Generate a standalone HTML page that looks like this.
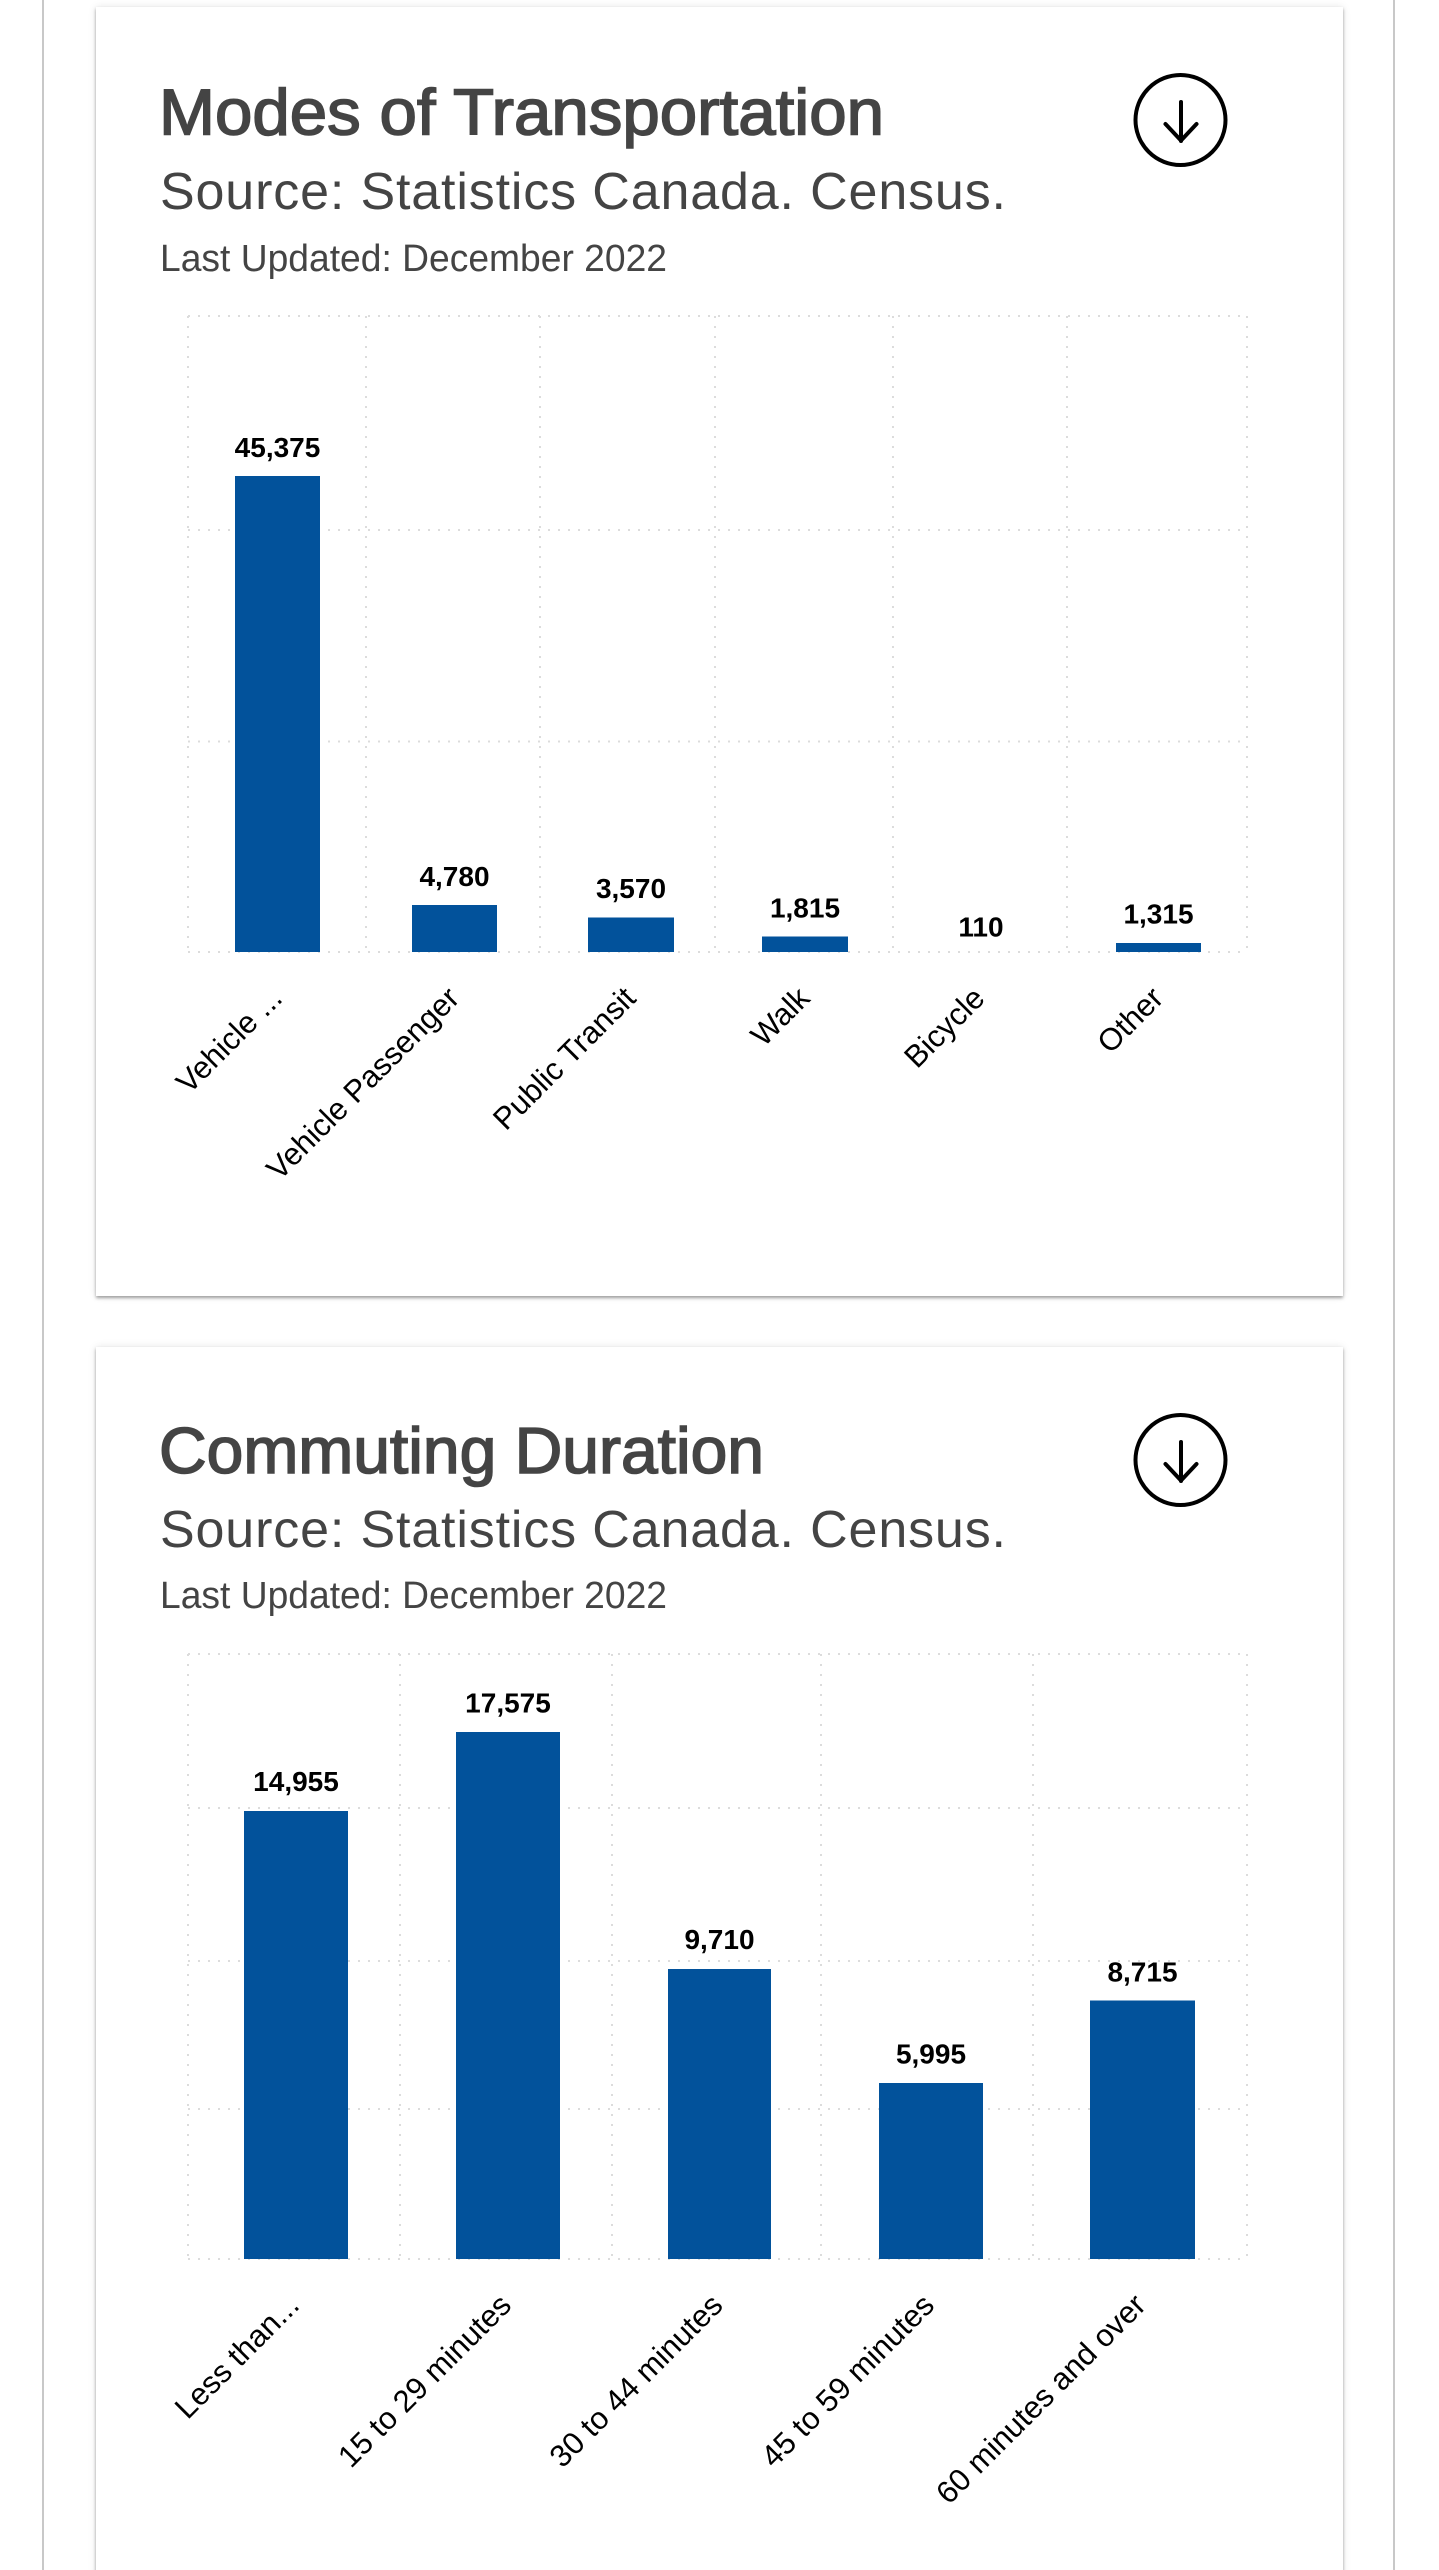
<!DOCTYPE html>
<html>
<head>
<meta charset="utf-8">
<style>
  html, body { margin:0; padding:0; width:1439px; height:2570px; overflow:hidden; background:#ffffff; }
  #wrap { position:relative; width:1439px; height:2570px; overflow:hidden; background:#ffffff; }
  .vline { position:absolute; top:0; width:2px; height:2570px; background:#c8c8c8; }
  .card { position:absolute; left:96px; width:1247px; background:#fff;
          box-shadow: 0 2px 3px rgba(0,0,0,0.35), 0 0 8px rgba(0,0,0,0.10); }
  svg.overlay { position:absolute; left:0; top:0; }
  .t { font-family:"Liberation Sans", Arial, sans-serif; }
</style>
</head>
<body>
<div id="wrap">
<div class="vline" style="left:42px"></div>
<div class="vline" style="left:1393px"></div>
<div class="card" style="top:7px;height:1289px"></div>
<div class="card" style="top:1347px;height:1260px"></div>

<svg class="overlay" width="1439" height="2570" viewBox="0 0 1439 2570" xmlns="http://www.w3.org/2000/svg">
  <!-- ================= CARD 1 header ================= -->
  <g class="t" fill="#444444">
    <text x="159" y="134.5" font-size="65" stroke="#444444" stroke-width="1.6" textLength="725" lengthAdjust="spacingAndGlyphs">Modes of Transportation</text>
    <text x="160" y="209" font-size="52" textLength="846" lengthAdjust="spacing">Source: Statistics Canada. Census.</text>
    <text x="160" y="271" font-size="38" textLength="507" lengthAdjust="spacingAndGlyphs">Last Updated: December 2022</text>
  </g>
  <g fill="none" stroke="#000" stroke-width="4" stroke-linecap="round" stroke-linejoin="round">
    <circle cx="1180.5" cy="120" r="45"/>
    <line x1="1181" y1="102" x2="1181" y2="141"/>
    <polyline points="1165.5,124 1181,140.5 1196.5,124"/>
  </g>

  <!-- ================= CHART 1 grid ================= -->
  <g stroke="#dcdcdc" stroke-width="2" stroke-dasharray="2,8" fill="none">
    <line x1="188" y1="316" x2="1247" y2="316"/>
    <line x1="188" y1="530" x2="1247" y2="530"/>
    <line x1="188" y1="741.5" x2="1247" y2="741.5"/>
    <line x1="188" y1="952" x2="1247" y2="952"/>
    <line x1="188" y1="316" x2="188" y2="952"/>
    <line x1="366" y1="316" x2="366" y2="952"/>
    <line x1="540" y1="316" x2="540" y2="952"/>
    <line x1="715" y1="316" x2="715" y2="952"/>
    <line x1="893" y1="316" x2="893" y2="952"/>
    <line x1="1067" y1="316" x2="1067" y2="952"/>
    <line x1="1247" y1="316" x2="1247" y2="952"/>
  </g>
  <!-- bars -->
  <g fill="#02529b">
    <rect x="235" y="476" width="85" height="476"/>
    <rect x="412" y="905" width="85" height="47"/>
    <rect x="588" y="917.5" width="86" height="34.5"/>
    <rect x="762" y="936.5" width="86" height="15.5"/>
    <rect x="1116" y="943" width="85" height="9"/>
  </g>
  <!-- value labels -->
  <g class="t" font-size="28" font-weight="bold" fill="#000" text-anchor="middle">
    <text x="277.5" y="457">45,375</text>
    <text x="454.5" y="886">4,780</text>
    <text x="631" y="898">3,570</text>
    <text x="805" y="917.5">1,815</text>
    <text x="981" y="936.5">110</text>
    <text x="1158.5" y="923.5">1,315</text>
  </g>
  <!-- axis labels -->
  <g class="t" font-size="31" fill="#000" text-anchor="end">
    <text x="284" y="1000" transform="rotate(-45 284 1000)">Vehicle ...</text>
    <text x="461" y="1000" transform="rotate(-45 461 1000)">Vehicle Passenger</text>
    <text x="637.5" y="1000" transform="rotate(-45 637.5 1000)">Public Transit</text>
    <text x="811.5" y="1000" transform="rotate(-45 811.5 1000)">Walk</text>
    <text x="986.5" y="1000" transform="rotate(-45 986.5 1000)">Bicycle</text>
    <text x="1165" y="1000" transform="rotate(-45 1165 1000)">Other</text>
  </g>

  <!-- ================= CARD 2 header ================= -->
  <g class="t" fill="#444444">
    <text x="159" y="1473" font-size="65" stroke="#444444" stroke-width="1.6" textLength="605" lengthAdjust="spacingAndGlyphs">Commuting Duration</text>
    <text x="160" y="1547" font-size="52" textLength="846" lengthAdjust="spacing">Source: Statistics Canada. Census.</text>
    <text x="160" y="1608" font-size="38" textLength="507" lengthAdjust="spacingAndGlyphs">Last Updated: December 2022</text>
  </g>
  <g fill="none" stroke="#000" stroke-width="4" stroke-linecap="round" stroke-linejoin="round">
    <circle cx="1180.5" cy="1460" r="45"/>
    <line x1="1181" y1="1442" x2="1181" y2="1481"/>
    <polyline points="1165.5,1464 1181,1480.5 1196.5,1464"/>
  </g>

  <!-- ================= CHART 2 grid ================= -->
  <g stroke="#dcdcdc" stroke-width="2" stroke-dasharray="2,8" fill="none">
    <line x1="188" y1="1654" x2="1247" y2="1654"/>
    <line x1="188" y1="1808" x2="1247" y2="1808"/>
    <line x1="188" y1="1961" x2="1247" y2="1961"/>
    <line x1="188" y1="2109" x2="1247" y2="2109"/>
    <line x1="188" y1="2259" x2="1247" y2="2259"/>
    <line x1="188" y1="1654" x2="188" y2="2259"/>
    <line x1="400" y1="1654" x2="400" y2="2259"/>
    <line x1="612" y1="1654" x2="612" y2="2259"/>
    <line x1="821" y1="1654" x2="821" y2="2259"/>
    <line x1="1033" y1="1654" x2="1033" y2="2259"/>
    <line x1="1247" y1="1654" x2="1247" y2="2259"/>
  </g>
  <g fill="#02529b">
    <rect x="244" y="1811" width="104" height="448"/>
    <rect x="456" y="1732" width="104" height="527"/>
    <rect x="668" y="1969" width="103" height="290"/>
    <rect x="879" y="2083" width="104" height="176"/>
    <rect x="1090" y="2000.5" width="105" height="258.5"/>
  </g>
  <g class="t" font-size="28" font-weight="bold" fill="#000" text-anchor="middle">
    <text x="296" y="1791">14,955</text>
    <text x="508" y="1712.5">17,575</text>
    <text x="719.5" y="1949">9,710</text>
    <text x="931" y="2063.5">5,995</text>
    <text x="1142.5" y="1981.5">8,715</text>
  </g>
  <g class="t" font-size="31" fill="#000" text-anchor="end">
    <text x="301" y="2307" transform="rotate(-45 301 2307)">Less than...</text>
    <text x="513" y="2307" transform="rotate(-45 513 2307)">15 to 29 minutes</text>
    <text x="724.5" y="2307" transform="rotate(-45 724.5 2307)">30 to 44 minutes</text>
    <text x="936" y="2307" transform="rotate(-45 936 2307)">45 to 59 minutes</text>
    <text x="1147.5" y="2307" transform="rotate(-45 1147.5 2307)">60 minutes and over</text>
  </g>
</svg>
</div>
</body>
</html>
